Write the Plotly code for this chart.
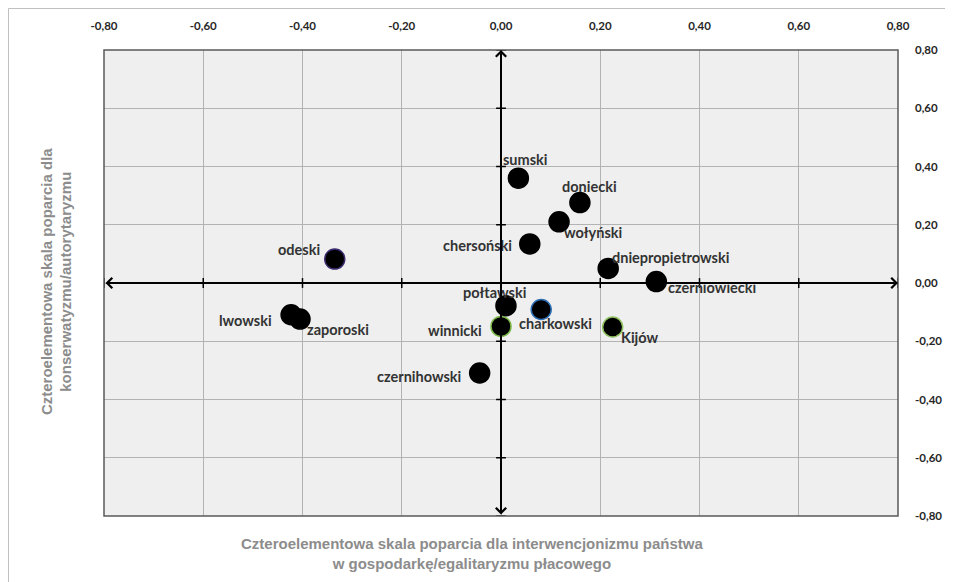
import plotly.graph_objects as go

# ---- data ----
regions = ["odeski", "lwowski", "zaporoski", "czernihowski", "winnicki", "połtawski",
           "sumski", "doniecki", "wołyński", "chersoński", "dniepropietrowski",
           "czerniowiecki", "charkowski", "Kijów"]
x_interw = [-0.335, -0.423, -0.405, -0.043, 0.000, 0.010,
            0.035, 0.159, 0.117, 0.058, 0.216,
            0.313, 0.081, 0.225]
y_konserw = [0.082, -0.109, -0.124, -0.309, -0.149, -0.078,
             0.360, 0.276, 0.210, 0.134, 0.050,
             0.005, -0.091, -0.151]

tick_vals = [-0.8, -0.6, -0.4, -0.2, 0.0, 0.2, 0.4, 0.6, 0.8]
tick_text = ["-0,80", "-0,60", "-0,40", "-0,20", "0,00", "0,20", "0,40", "0,60", "0,80"]

x_title = "Czteroelementowa skala poparcia dla interwencjonizmu państwa<br>w gospodarkę/egalitaryzmu płacowego"
y_title = "Czteroelementowa skala poparcia dla<br>konserwatyzmu/autorytaryzmu"

# ---- styling ----
outline = {"odeski": "#3b2a6e", "winnicki": "#7cb84a", "charkowski": "#2f6fb5", "Kijów": "#8dc060"}
label_shift = {
    "odeski": (-36, 10), "lwowski": (-46, -6), "zaporoski": (38, -10),
    "czernihowski": (-61, -3), "winnicki": (-46, -4), "połtawski": (-11, 13),
    "sumski": (7, 19), "doniecki": (10, 16), "wołyński": (34, -11),
    "chersoński": (-52, -2), "dniepropietrowski": (62, 11), "czerniowiecki": (56, -6),
    "charkowski": (14, -14), "Kijów": (27, -11),
}

fig = go.Figure()

# zero-axis small tick marks
fig.add_trace(go.Scatter(x=tick_vals, y=[0] * len(tick_vals), mode="markers",
                         marker=dict(symbol="line-ns", size=7, line=dict(color="black", width=1.5)),
                         hoverinfo="skip", showlegend=False))
fig.add_trace(go.Scatter(x=[0] * len(tick_vals), y=tick_vals, mode="markers",
                         marker=dict(symbol="line-ew", size=7, line=dict(color="black", width=1.5)),
                         hoverinfo="skip", showlegend=False))

fig.add_trace(go.Scatter(
    x=x_interw, y=y_konserw, mode="markers", text=regions,
    marker=dict(size=20, color="black",
                line=dict(color=[outline.get(r, "black") for r in regions], width=1.5)),
    showlegend=False, cliponaxis=False))

annotations = []
for r, xv, yv in zip(regions, x_interw, y_konserw):
    dx, dy = label_shift[r]
    annotations.append(dict(x=xv, y=yv, xref="x", yref="y", text=r, showarrow=False,
                            xshift=dx, yshift=dy, xanchor="center", yanchor="middle",
                            font=dict(family="Lato", size=14.5, color="#333333", weight="bold")))

# axis arrows through origin
annotations.append(dict(x=0.8, y=0, ax=-0.8, ay=0, xref="x", yref="y", axref="x", ayref="y",
                        text="", showarrow=True, arrowhead=4, arrowside="end+start",
                        arrowsize=1, arrowwidth=2, arrowcolor="black"))
annotations.append(dict(x=0, y=0.8, ax=0, ay=-0.8, xref="x", yref="y", axref="x", ayref="y",
                        text="", showarrow=True, arrowhead=4, arrowside="end+start",
                        arrowsize=1, arrowwidth=2, arrowcolor="black"))

annotations.append(dict(x=0.4635, y=-0.0815, xref="paper", yref="paper", text=x_title,
                        showarrow=False, align="center", xanchor="center", yanchor="middle",
                        font=dict(family="Liberation Sans", size=15, color="#8c8c8c", weight="bold")))
annotations.append(dict(x=-0.0605, y=0.504, xref="paper", yref="paper", text=y_title,
                        showarrow=False, align="center", textangle=-90,
                        xanchor="center", yanchor="middle",
                        font=dict(family="Liberation Sans", size=15, color="#8c8c8c", weight="bold")))

fig.update_layout(
    width=953, height=582,
    margin=dict(l=96, r=63, t=42, b=74),
    paper_bgcolor="white", plot_bgcolor="#eeefee",
    annotations=annotations,
    shapes=[
        dict(type="rect", xref="paper", yref="paper", x0=0, x1=1, y0=0, y1=1,
             line=dict(color="#595959", width=1.5), layer="above"),
        dict(type="rect", xref="paper", yref="paper", x0=-0.1203, x1=1.2, y0=-0.3, y1=1.0891,
             line=dict(color="#bfbfbf", width=1)),
    ],
    xaxis=dict(range=[-0.8, 0.8], side="top", tickvals=tick_vals, ticktext=tick_text,
               showgrid=True, gridcolor="#b3b3b3", gridwidth=1, zeroline=False,
               ticks="", ticklabelstandoff=17, showline=False,
               tickfont=dict(family="Lato", size=11.5, color="#262626", weight="bold")),
    yaxis=dict(range=[-0.8, 0.8], side="right", tickvals=tick_vals, ticktext=tick_text,
               showgrid=True, gridcolor="#b3b3b3", gridwidth=1, zeroline=False,
               ticks="", ticklabelstandoff=16, showline=False,
               tickfont=dict(family="Lato", size=11.5, color="#262626", weight="bold")),
)

fig.write_html("out.html")
